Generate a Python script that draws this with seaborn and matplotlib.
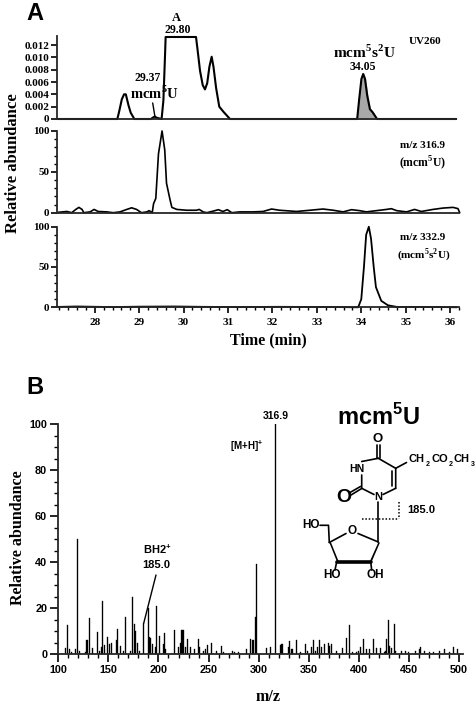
import matplotlib
matplotlib.use("Agg")
import matplotlib.pyplot as plt
import numpy as np
import pandas as pd
import seaborn as sns

# --- data ---
uv_t = [27.15, 28.50, 28.54, 28.60, 28.65, 28.69, 28.75, 28.80, 28.88, 29.25, 29.31, 29.34, 29.38,
        29.49, 29.53, 29.57, 29.58, 30.26, 30.29, 30.35, 30.41, 30.46, 30.51, 30.56, 30.61, 30.65,
        30.71, 30.78, 30.87, 31.02, 33.865, 33.91, 33.96, 34.00, 34.04, 34.09, 34.15, 34.21, 34.31, 36.08]
uv_y = [0, 0, 0.0012, 0.0032, 0.0040, 0.0040, 0.0022, 0.0010, 0, 0, 0.0003, 0.0004, 0.0002,
        0, 0.003, 0.011, 0.0133, 0.0133, 0.0115, 0.0078, 0.0055, 0.0048, 0.0058, 0.0085, 0.0101, 0.0085,
        0.0050, 0.0020, 0.0012, 0, 0, 0.0032, 0.0065, 0.0073, 0.0065, 0.0038, 0.0016, 0.0011, 0, 0]
shade_t = [33.865, 33.91, 33.96, 34.00, 34.04, 34.09, 34.15, 34.21, 34.31]
shade_y = [0, 0.0032, 0.0065, 0.0073, 0.0065, 0.0038, 0.0016, 0.0011, 0]

t316 = [27.18, 27.37, 27.48, 27.57, 27.64, 27.71, 27.75, 27.89, 27.98, 28.07, 28.26, 28.41, 28.56, 28.71,
        28.82, 28.93, 29.04, 29.16, 29.21, 29.28, 29.31, 29.36, 29.42, 29.50, 29.56, 29.60, 29.68, 29.72,
        29.83, 30.05, 30.27, 30.33, 30.42, 30.50, 30.65, 30.76, 30.86, 30.96, 31.06, 31.24, 31.54, 31.76,
        31.95, 32.13, 32.51, 32.81, 33.10, 33.33, 33.55, 33.74, 33.92, 34.07, 34.37, 34.52, 34.63, 34.75,
        34.97, 35.15, 35.30, 35.56, 35.79, 36.01, 36.12, 36.16]
y316 = [0.5, 1.5, 0, 4, 6.5, 4, 0, 1, 4, 1.5, 1, 0, 1, 4,
        6, 4, 0, 1, 2.5, 0, 11, 17.5, 72, 100, 77, 36, 15.5, 6.5,
        4, 3, 3, 4, 1, 0, 2, 3.7, 1.5, 3.7, 0, 1, 1, 1.5,
        4.5, 3, 1.5, 3, 4.5, 3, 1, 3.7, 2.5, 1, 3, 4, 4.9, 2.5,
        1, 4, 1.5, 4, 5.7, 6.5, 5, 0]

t332 = [27.15, 27.6, 28.4, 29.0, 29.8, 30.4, 31.2, 32.1, 33.2, 33.93, 34.00, 34.06, 34.11, 34.17, 34.22,
        34.28, 34.33, 34.45, 34.60, 34.80, 35.5, 36.15]
y332 = [0.5, 1, 0.3, 0.8, 1, 0.6, 0.3, 0.6, 0.4, 0, 10, 50, 90, 100, 85,
        50, 25, 8, 2.5, 0.5, 0.5, 0]

mz = [107, 109, 111, 113, 117, 119, 121, 127, 128, 129, 131, 134, 139, 141, 143, 144, 146, 149, 151, 153,
      158, 159, 162, 165, 167, 172, 174, 176, 177, 179, 181, 185, 190, 191, 192, 194, 197, 198, 201, 205,
      206, 207, 216, 220, 222, 223, 224, 225, 227, 229, 232, 236, 240, 241, 245, 247, 249, 253, 258, 263,
      265, 274, 276, 280, 288, 292, 294, 295, 297, 298, 308, 312, 317, 322, 323, 324, 330, 331, 333, 334,
      338, 342, 347, 349, 353, 355, 357, 359, 361, 363, 366, 370, 371, 373, 378, 384, 388, 391, 394, 398,
      400, 402, 405, 408, 411, 415, 418, 422, 426, 427, 428, 430, 431, 433, 436, 437, 443, 447, 450, 457,
      461, 462, 466, 471, 475, 481, 486, 491, 495, 499]
abundance = [2.5, 12.5, 2, 1, 2, 50, 1.5, 0.8, 6, 6.3, 15.5, 2.5, 9.5, 1.5, 3, 23, 4, 7.5, 4.5, 5,
             6, 11, 3.5, 1.5, 16, 1.5, 25, 13, 10, 5, 1.5, 13.5, 20, 7.5, 7, 4.5, 3, 21, 8, 4.5,
             9, 2, 10.5, 3, 5, 10.5, 10.5, 10.5, 3, 6.5, 3, 2, 6.5, 3, 1.5, 2, 4, 5, 1.5, 3.5,
             1, 1.5, 1, 1, 2, 6.5, 6, 6, 16, 39, 2.5, 3, 100, 4, 4.5, 4.5, 3, 5.5, 2, 2,
             6, 1, 4.5, 1.5, 3, 6, 1.5, 3, 6, 3, 4.5, 5, 3.5, 4.5, 1.5, 2.5, 7, 12.5, 1, 1,
             1.5, 3, 6.5, 2, 2, 6.5, 2.5, 2.5, 1, 1.5, 6.5, 15, 3.5, 2.5, 13, 1.5, 1.5, 1.5, 1, 1.5,
             2, 3, 1.5, 1, 1, 1.5, 2, 1, 3, 2]

W, H = 477, 706
SERIF = "Liberation Serif"
SANS = "Liberation Sans"

sns.set_theme(style="ticks")
plt.rcParams.update({
    "font.family": SERIF,
    "font.weight": "bold",
    "axes.linewidth": 1.3,
    "mathtext.fontset": "custom",
    "mathtext.bf": "Liberation Serif:bold",
    "mathtext.sf": "Liberation Sans:bold",
    "mathtext.rm": "Liberation Serif:bold",
})

fig = plt.figure(figsize=(W / 100, H / 100), dpi=100)


def px_axes(left, right, top, bottom):
    return fig.add_axes([left / W, 1 - bottom / H, (right - left) / W, (bottom - top) / H])


def style_axes(ax, font, size=8):
    sns.despine(ax=ax)
    ax.set_xlabel("")
    ax.set_ylabel("")
    ax.patch.set_alpha(0)
    ax.tick_params(axis="both", which="major", length=4, width=1.2, pad=1.5, color="black",
                   labelcolor="black", labelsize=size)
    ax.tick_params(axis="both", which="minor", length=2.2, width=1, color="black")
    for lab in ax.get_xticklabels() + ax.get_yticklabels():
        lab.set_fontfamily(font)
        lab.set_fontweight("bold")


def t_of_px(px):
    return 28 + (px - 95) / 44.7


# --- panel A: UV trace ---
ax1 = px_axes(57, 456, 36, 119)
sns.lineplot(x=uv_t, y=uv_y, ax=ax1, color="black", lw=1.5, estimator=None, errorbar=None)
ax1.fill_between(shade_t, shade_y, color="#a8a8a8", zorder=1)
ax1.set_xlim(t_of_px(57), t_of_px(456))
ax1.set_ylim(0, 0.01346)
ax1.set_yticks([0, 0.002, 0.004, 0.006, 0.008, 0.010, 0.012],
               ["0", "0.002", "0.004", "0.006", "0.008", "0.010", "0.012"])
ax1.set_xticks([])
style_axes(ax1, SERIF)

# --- panel A: m/z 316.9 ---
ax2 = px_axes(57, 459, 131, 212.7)
sns.lineplot(x=t316, y=y316, ax=ax2, color="black", lw=1.2, estimator=None, errorbar=None)
ax2.set_xlim(t_of_px(57), t_of_px(459))
ax2.set_ylim(0, 100)
ax2.set_yticks([0, 50, 100])
ax2.set_yticks(np.arange(0, 101, 10), minor=True)
ax2.set_xticks([])
style_axes(ax2, SERIF)

# --- panel A: m/z 332.9 ---
ax3 = px_axes(57, 459, 226.7, 307.3)
sns.lineplot(x=t332, y=y332, ax=ax3, color="black", lw=1.3, estimator=None, errorbar=None)
ax3.set_xlim(t_of_px(57), t_of_px(459))
ax3.set_ylim(0, 100)
ax3.set_yticks([0, 50, 100])
ax3.set_yticks(np.arange(0, 101, 10), minor=True)
ax3.set_xticks(range(28, 37))
ax3.set_xticks(np.arange(27.2, 36.2, 0.2), minor=True)
style_axes(ax3, SERIF)
ax3.tick_params(axis="x", which="major", pad=4)

for ax in (ax1, ax2, ax3):
    for line in ax.get_lines():
        line.set_clip_on(False)

# --- panel B: spectrum ---
ax4 = px_axes(58.3, 463, 424, 654)
spec = pd.DataFrame({"mz": mz, "abundance": abundance})
sns.barplot(data=spec, x="mz", y="abundance", ax=ax4, native_scale=True, width=1.0, color="black",
            errorbar=None, saturation=1, edgecolor="black", linewidth=0.25)
ax4.set_xlim(100, 504)
ax4.set_ylim(0, 100)
ax4.set_xticks(range(100, 501, 50))
ax4.set_xticks(range(100, 501, 10), minor=True)
ax4.set_yticks(range(0, 101, 20))
ax4.set_yticks(range(0, 101, 5), minor=True)
style_axes(ax4, SANS, size=7.8)
ax4.tick_params(axis="both", which="major", length=5.5, pad=2.5)
ax4.tick_params(axis="both", which="minor", length=3)

# --- overlay in pixel coordinates: labels and the structure ---
ov = fig.add_axes([0, 0, 1, 1])
ov.set_xlim(0, W)
ov.set_ylim(H, 0)
ov.axis("off")


def label(x, y, s, size=8, font=SERIF, **kw):
    ov.text(x, y, s, fontsize=size, family=font, fontweight="bold", ha="center", va="center",
            color="black", **kw)


def bond(xs, ys, lw=1.2, **kw):
    ov.plot(xs, ys, color="black", lw=lw, solid_capstyle="round", **kw)


label(34.5, 14, "A", 17, SANS)
label(35, 387, "B", 17, SANS)
label(13, 163, "Relative abundance", 12, rotation=90)
label(18, 538, "Relative abundance", 11.5, rotation=90)
label(268, 340, "Time (min)", 11.5)
label(268, 697, "m/z", 11.5)

label(176, 18, "A", 9)
label(178, 30, "29.80", 8.5)
label(148, 78, "29.37", 8.5)
label(154, 93, r"mcm$^{\mathbf{5}}$U", 10.5)
bond([152.7, 155], [103, 117], lw=1)
label(425, 41, "UV260", 8)
label(364, 52, r"mcm$^{\mathbf{5}}$s$^{\mathbf{2}}$U", 11)
label(363, 67, "34.05", 8.5)
label(423, 145, "m/z 316.9", 8)
label(423, 163, r"(mcm$^{\mathbf{5}}$U)", 8.5)
label(423, 238, "m/z 332.9", 8)
label(424, 255, r"(mcm$^{\mathbf{5}}$s$^{\mathbf{2}}$U)", 8)

label(157, 549, r"BH2$^{\mathsf{+}}$", 8, SANS)
label(156, 565, "185.0", 8, SANS)
bond([156, 143.7], [575, 623.3], lw=1)
label(247, 446, r"[M+H]$^{\mathsf{+}}$", 7, SANS)
label(275.7, 416, "316.9", 7.5, SANS)
label(378, 417, r"mcm$^{\mathsf{5}}$U", 17, SANS)

# pyrimidine ring
bond([378.3, 395.7, 395.7], [458.3, 468.3, 488.3])
bond([392.5, 392.5], [471, 486])
bond([395.7, 383], [488.3, 494.5])
bond([374, 361.7, 361.7], [494.5, 488.3, 475])
bond([361.7, 378.3], [461.5, 458.3])
bond([377, 377], [445, 458.3])
bond([379.6, 379.6], [445, 458.3])
bond([395.7, 406.5], [468.3, 462.5])
bond([351, 361.7], [495, 488.5])
bond([350, 360.5], [492.5, 486.5])
label(377.7, 439, "O", 9.5, SANS)
label(357, 468.5, "HN", 7.5, SANS)
label(343.5, 497.5, "O", 14, SANS)
label(378.3, 497, "N", 8, SANS)
label(416.5, 459, "CH", 8, SANS)
label(427.5, 465, "2", 5, SANS)
label(440, 459, "CO", 8, SANS)
label(450.5, 465, "2", 5, SANS)
label(461.5, 459, "CH", 8, SANS)
label(472.5, 465, "3", 5, SANS)

# ribose ring and the cleavage mark
bond([378.3, 378.3], [502, 542])
bond([362.5, 399.5], [519.3, 519.3], lw=1.1, ls=(0, (1, 1.2)))
bond([399.5, 399.5], [502, 519.3], lw=1.1, ls=(0, (1, 1.2)))
label(421.5, 510, "185.0", 8, SANS)
label(311, 525.3, "HO", 8.5, SANS)
bond([320, 328.5, 329.3], [525.3, 525.3, 542.5])
bond([329.3, 346], [542.5, 533.5])
bond([358, 378.3], [533.5, 542])
label(352.5, 531, "O", 8.5, SANS)
ov.fill([329.3, 336.7, 338.5, 331], [542.5, 561, 561, 542.5], color="black", lw=0)
ov.fill([378.3, 370, 372, 380], [542.5, 561, 561, 542.5], color="black", lw=0)
bond([336.7, 370.7], [561.7, 561.7], lw=2.6)
bond([336.7, 335], [561.7, 570])
bond([370.7, 371.7], [561.7, 570])
label(332.3, 575, "HO", 8.5, SANS)
label(375, 575, "OH", 8.5, SANS)

fig.savefig("out.png", dpi=100)
plt.close(fig)
